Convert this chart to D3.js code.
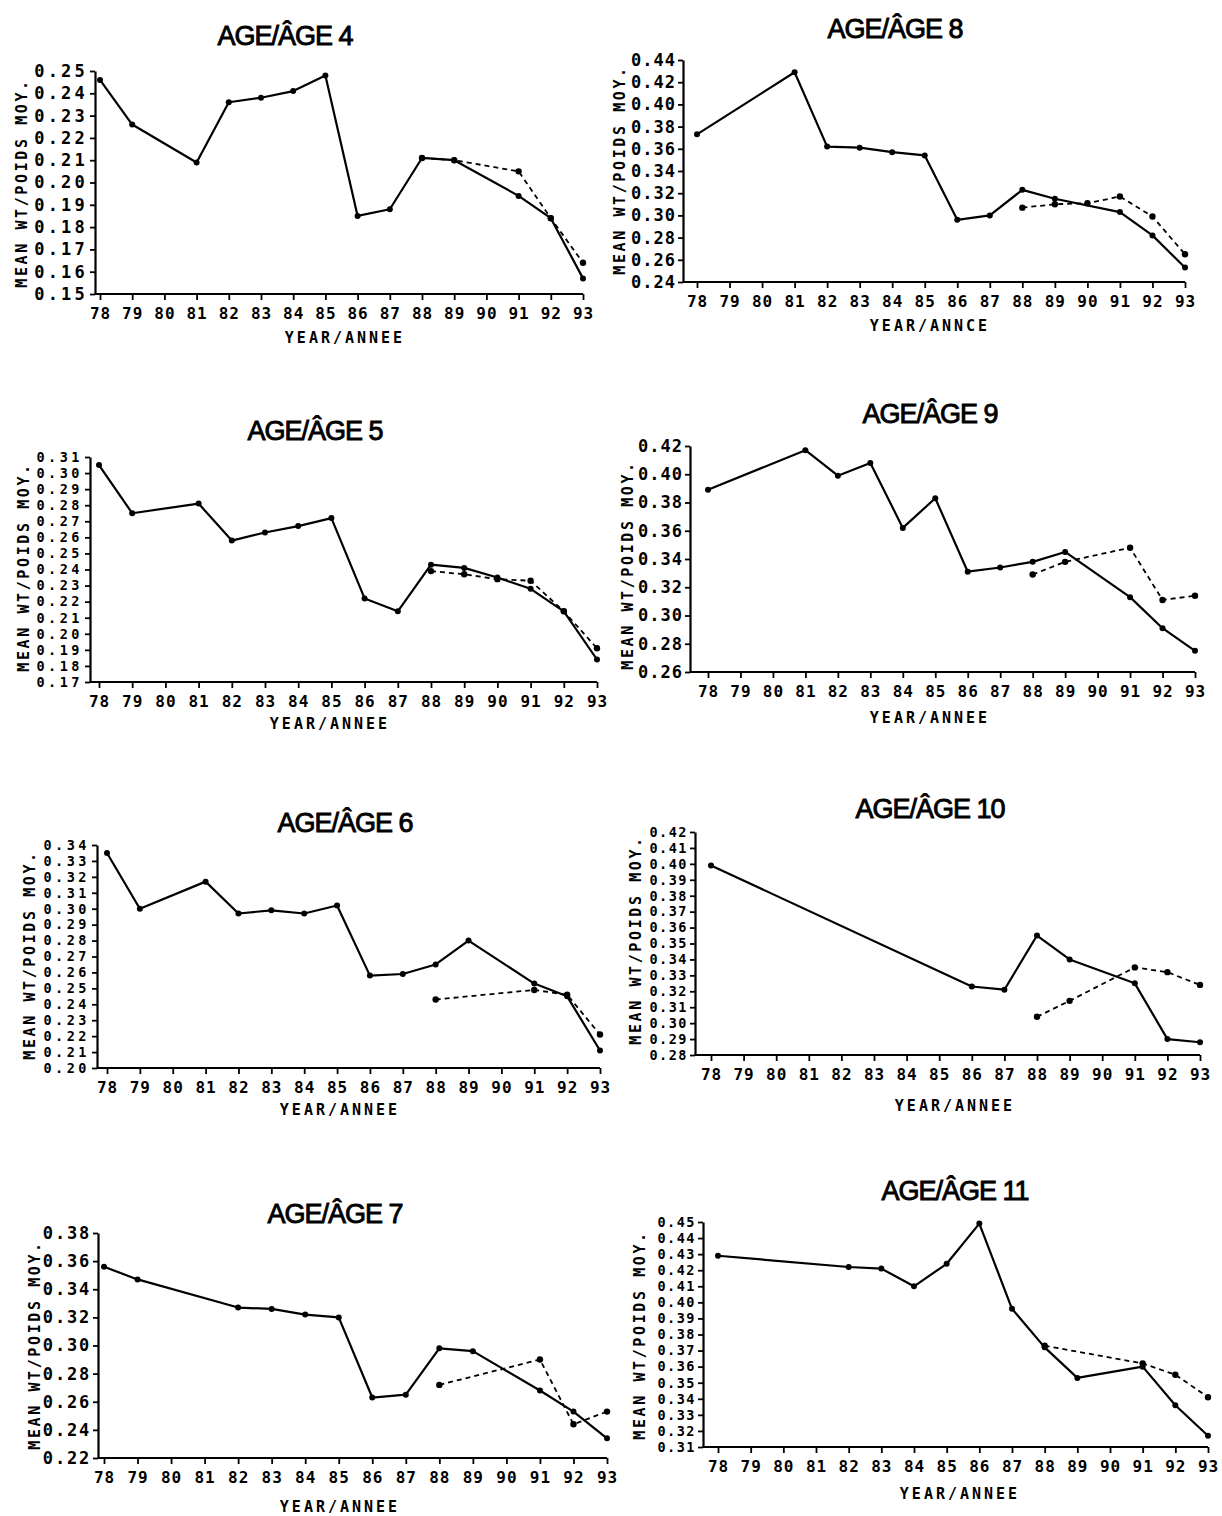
<!DOCTYPE html>
<html>
<head>
<meta charset="utf-8">
<script src="https://cdn.jsdelivr.net/npm/d3@7"></script>
<style>
  html, body { margin: 0; padding: 0; background: #fff; }
  svg { display: block; }
  .title { font-family: "Liberation Sans", Arial, sans-serif; font-size: 27px; letter-spacing: -1px; fill: #000; stroke: #000; stroke-width: 0.9px; }
  .tick text { font-family: "DejaVu Sans Mono", monospace; font-weight: bold; fill: #000; }
  .ylab, .xlab { font-family: "DejaVu Sans Mono", monospace; font-weight: bold; font-size: 15px; fill: #000; }
  .ylab { letter-spacing: 2.6px; }
  .xlab { letter-spacing: 3px; }
</style>
</head>
<body>
<svg id="chart" width="1222" height="1516"></svg>
<script>
// Survey years (19xx) and their axis labels
const years = [78, 79, 80, 81, 82, 83, 84, 85, 86, 87, 88, 89, 90, 91, 92, 93];
const yearLabels = ["78", "79", "80", "81", "82", "83", "84", "85", "86", "87", "88", "89", "90", "91", "92", "93"];

// Mean weight (kg) by age; solid = first series, dashed = second series (null = no value)
const age4Solid  = [0.246, 0.226, null, 0.209, 0.236, 0.238, 0.241, 0.248, 0.185, 0.188, 0.211, 0.210, null, 0.194, 0.184, 0.157];
const age4Dashed = [null, null, null, null, null, null, null, null, null, null, 0.211, 0.210, null, 0.205, 0.184, 0.164];
const age5Solid  = [0.305, 0.275, null, 0.281, 0.258, 0.263, 0.267, 0.272, 0.222, 0.214, 0.243, 0.241, 0.235, 0.228, 0.214, 0.184];
const age5Dashed = [null, null, null, null, null, null, null, null, null, null, 0.239, 0.237, 0.234, 0.233, 0.214, 0.191];
const age6Solid  = [0.335, 0.300, null, 0.317, 0.297, 0.299, 0.297, 0.302, 0.258, 0.259, 0.265, 0.280, null, 0.253, 0.245, 0.211];
const age6Dashed = [null, null, null, null, null, null, null, null, null, null, 0.243, null, null, 0.249, 0.246, 0.221];
const age7Solid  = [0.356, 0.347, null, null, 0.327, 0.326, 0.322, 0.320, 0.263, 0.265, 0.298, 0.296, null, 0.268, 0.253, 0.234];
const age7Dashed = [null, null, null, null, null, null, null, null, null, null, 0.272, null, null, 0.290, 0.244, 0.253];
const age8Solid  = [0.373, null, null, 0.429, 0.362, 0.361, 0.357, 0.354, 0.296, 0.300, 0.323, 0.315, null, 0.303, 0.282, 0.253];
const age8Dashed = [null, null, null, null, null, null, null, null, null, null, 0.307, 0.310, 0.311, 0.317, 0.299, 0.265];
const age9Solid  = [0.389, null, null, 0.417, 0.399, 0.408, 0.362, 0.383, 0.331, 0.334, 0.338, 0.345, null, 0.313, 0.291, 0.275];
const age9Dashed = [null, null, null, null, null, null, null, null, null, null, 0.329, 0.338, null, 0.348, 0.311, 0.314];
const age10Solid  = [0.399, null, null, null, null, null, null, null, 0.323, 0.321, 0.355, 0.340, null, 0.325, 0.290, 0.288];
const age10Dashed = [null, null, null, null, null, null, null, null, null, null, 0.304, 0.314, null, 0.335, 0.332, 0.324];
const age11Solid  = [0.429, null, null, null, 0.422, 0.421, 0.410, 0.424, 0.449, 0.396, 0.372, 0.353, null, 0.360, 0.336, 0.317];
const age11Dashed = [null, null, null, null, null, null, null, null, null, null, 0.373, null, null, 0.362, 0.355, 0.341];

// Y tick values for each panel
const age4Ticks  = [0.15, 0.16, 0.17, 0.18, 0.19, 0.20, 0.21, 0.22, 0.23, 0.24, 0.25];
const age5Ticks  = [0.17, 0.18, 0.19, 0.20, 0.21, 0.22, 0.23, 0.24, 0.25, 0.26, 0.27, 0.28, 0.29, 0.30, 0.31];
const age6Ticks  = [0.20, 0.21, 0.22, 0.23, 0.24, 0.25, 0.26, 0.27, 0.28, 0.29, 0.30, 0.31, 0.32, 0.33, 0.34];
const age7Ticks  = [0.22, 0.24, 0.26, 0.28, 0.30, 0.32, 0.34, 0.36, 0.38];
const age8Ticks  = [0.24, 0.26, 0.28, 0.30, 0.32, 0.34, 0.36, 0.38, 0.40, 0.42, 0.44];
const age9Ticks  = [0.26, 0.28, 0.30, 0.32, 0.34, 0.36, 0.38, 0.40, 0.42];
const age10Ticks = [0.28, 0.29, 0.30, 0.31, 0.32, 0.33, 0.34, 0.35, 0.36, 0.37, 0.38, 0.39, 0.40, 0.41, 0.42];
const age11Ticks = [0.31, 0.32, 0.33, 0.34, 0.35, 0.36, 0.37, 0.38, 0.39, 0.40, 0.41, 0.42, 0.43, 0.44, 0.45];

const titles = ["AGE/ÂGE 4", "AGE/ÂGE 5", "AGE/ÂGE  6", "AGE/ÂGE 7", "AGE/ÂGE 8", "AGE/ÂGE 9", "AGE/ÂGE 10", "AGE/ÂGE 11"];
const yTitle = "MEAN WT/POIDS MOY.";
const xTitles = ["YEAR/ANNEE", "YEAR/ANNEE", "YEAR/ANNEE", "YEAR/ANNEE", "YEAR/ANNCE", "YEAR/ANNEE", "YEAR/ANNEE", "YEAR/ANNEE"];

// Panel frames: ax = y-axis x, x0/x1 = first/last year, yTop/yBot = top/bottom tick,
// ls = letter spacing of the value labels
const panels = [
  { title: titles[0], solid: age4Solid, dashed: age4Dashed, ticks: age4Ticks, xt: xTitles[0], ls: 3.2,
    ax: 95, x0: 100, x1: 583, yTop: 71, yBot: 294, tx: 285, ty: 45, lx: 22, ly: 183, xly: 316, yx: 345, yy: 343 },
  { title: titles[1], solid: age5Solid, dashed: age5Dashed, ticks: age5Ticks, xt: xTitles[1], ls: 3.5,
    ax: 90, x0: 99, x1: 597, yTop: 457, yBot: 682, tx: 315, ty: 440, lx: 24, ly: 567, xly: 703, yx: 330, yy: 729 },
  { title: titles[2], solid: age6Solid, dashed: age6Dashed, ticks: age6Ticks, xt: xTitles[2], ls: 3.5,
    ax: 97, x0: 107, x1: 600, yTop: 845, yBot: 1068, tx: 345, ty: 832, lx: 30, ly: 955, xly: 1088, yx: 340, yy: 1115 },
  { title: titles[3], solid: age7Solid, dashed: age7Dashed, ticks: age7Ticks, xt: xTitles[3], ls: 1.8,
    ax: 98, x0: 104, x1: 607, yTop: 1233, yBot: 1458, tx: 335, ty: 1223, lx: 35, ly: 1345, xly: 1484, yx: 340, yy: 1512 },
  { title: titles[4], solid: age8Solid, dashed: age8Dashed, ticks: age8Ticks, xt: xTitles[4], ls: 1,
    ax: 683, x0: 697, x1: 1185, yTop: 60, yBot: 282, tx: 895, ty: 38, lx: 620, ly: 170, xly: 306, yx: 930, yy: 331 },
  { title: titles[5], solid: age9Solid, dashed: age9Dashed, ticks: age9Ticks, xt: xTitles[5], ls: 1,
    ax: 690, x0: 708, x1: 1195, yTop: 446, yBot: 672, tx: 930, ty: 423, lx: 628, ly: 565, xly: 696, yx: 930, yy: 723 },
  { title: titles[6], solid: age10Solid, dashed: age10Dashed, ticks: age10Ticks, xt: xTitles[6], ls: 1.5,
    ax: 695, x0: 711, x1: 1200, yTop: 832, yBot: 1055, tx: 930, ty: 818, lx: 636, ly: 940, xly: 1084, yx: 955, yy: 1111 },
  { title: titles[7], solid: age11Solid, dashed: age11Dashed, ticks: age11Ticks, xt: xTitles[7], ls: 1.5,
    ax: 703, x0: 718, x1: 1208, yTop: 1222, yBot: 1447, tx: 955, ty: 1200, lx: 640, ly: 1335, xly: 1472, yx: 960, yy: 1499 }
];

const svg = d3.select("#chart");
svg.append("rect").attr("width", 1222).attr("height", 1516).attr("fill", "#fff");

panels.forEach(p => {
  const g = svg.append("g");
  const x = d3.scaleLinear().domain([d3.min(years), d3.max(years)]).range([p.x0, p.x1]);
  const y = d3.scaleLinear().domain(d3.extent(p.ticks)).range([p.yBot, p.yTop]);
  // densely labelled axes get a smaller face so neighbouring labels do not collide
  const dense = p.ticks.length > 11;

  // title
  g.append("text").attr("class", "title")
    .attr("x", p.tx).attr("y", p.ty).attr("text-anchor", "middle").text(p.title);

  // y axis
  const yAxis = g.append("g").attr("transform", `translate(${p.ax},0)`)
    .call(d3.axisLeft(y).tickValues(p.ticks).tickFormat(d3.format(".2f")).tickSize(5).tickSizeOuter(0).tickPadding(2));
  yAxis.selectAll("path.domain").attr("stroke", "#000").attr("stroke-width", 2.2);
  yAxis.selectAll(".tick line").attr("stroke", "#000").attr("stroke-width", 1.8);
  yAxis.selectAll(".tick text")
    .style("font-size", dense ? "13.5px" : "17px")
    .style("letter-spacing", p.ls + "px");

  // x axis
  const xAxis = g.append("g").attr("transform", `translate(0,${p.yBot})`)
    .call(d3.axisBottom(x).tickValues(years).tickFormat((d, i) => yearLabels[i]).tickSize(6).tickSizeOuter(0).tickPadding(8));
  xAxis.selectAll("path.domain").remove();
  xAxis.append("line").attr("x1", p.ax).attr("x2", p.x1)
    .attr("stroke", "#000").attr("stroke-width", 2.2);
  xAxis.selectAll(".tick line").attr("stroke", "#000").attr("stroke-width", 1.8);
  xAxis.selectAll(".tick text").style("font-size", "16px").style("letter-spacing", "1px");

  // axis titles
  g.append("text").attr("class", "ylab")
    .attr("transform", `translate(${p.lx},${p.ly}) rotate(-90)`)
    .attr("text-anchor", "middle").attr("dy", "0.35em").text(yTitle);
  g.append("text").attr("class", "xlab")
    .attr("x", p.yx).attr("y", p.yy).attr("text-anchor", "middle").text(p.xt);

  // series
  const line = d3.line().x(d => x(d.year)).y(d => y(d.v));
  const toPts = arr => years.map((yr, i) => ({ year: yr, v: arr[i] })).filter(d => d.v != null);
  const solidPts = toPts(p.solid);
  const dashedPts = toPts(p.dashed);

  g.append("path").datum(dashedPts).attr("d", line)
    .attr("fill", "none").attr("stroke", "#000").attr("stroke-width", 1.8)
    .attr("stroke-dasharray", "5,4");
  g.append("path").datum(solidPts).attr("d", line)
    .attr("fill", "none").attr("stroke", "#000").attr("stroke-width", 2.2)
    .attr("stroke-linejoin", "round");

  g.selectAll("circle.d").data(dashedPts).enter().append("circle").attr("class", "d")
    .attr("cx", d => x(d.year)).attr("cy", d => y(d.v)).attr("r", 3.2).attr("fill", "#000");
  g.selectAll("circle.s").data(solidPts).enter().append("circle").attr("class", "s")
    .attr("cx", d => x(d.year)).attr("cy", d => y(d.v)).attr("r", 3).attr("fill", "#000");
});
</script>
</body>
</html>
